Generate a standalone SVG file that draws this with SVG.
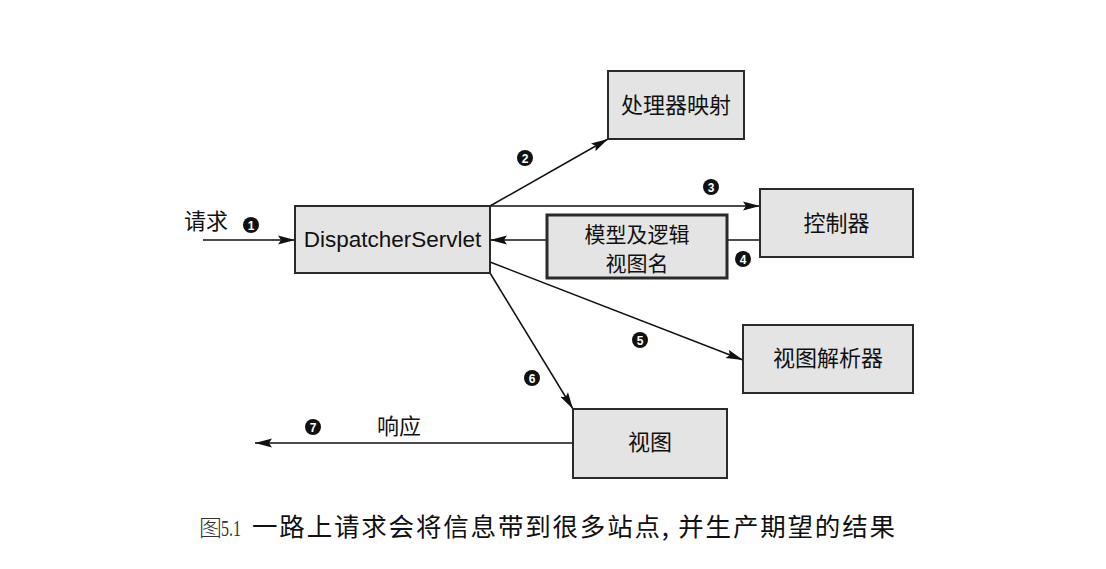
<svg xmlns="http://www.w3.org/2000/svg" width="1106" height="569" viewBox="0 0 1106 569">
<style>
.box{fill:#e4e4e4;stroke:#2a2a2a;stroke-width:2}
.thick{stroke-width:3}
.lbl{font-family:"Noto Sans CJK SC","Liberation Sans",sans-serif;font-size:22px;fill:#111;text-anchor:middle}
.sm{font-size:21px}
.en{font-family:"Liberation Sans",Arial,sans-serif;font-size:22.5px;fill:#111;text-anchor:middle}
.edge{stroke:#111;stroke-width:1.5;fill:none}
.num circle{fill:#111}
.num text{font-family:"Liberation Sans",Arial,sans-serif;font-size:12px;font-weight:bold;fill:#fff;text-anchor:middle}
.cap{font-family:"Noto Sans CJK SC",serif;font-size:23px;fill:#333;font-weight:300}
.capn{font-family:"Liberation Serif",serif;font-size:24px;fill:#333}
.capz{font-family:"Noto Sans CJK SC",sans-serif;font-size:25.5px;fill:#111}
</style>
<defs>
<marker id="ah" markerWidth="18" markerHeight="10" refX="17" refY="5" orient="auto" markerUnits="userSpaceOnUse">
<path d="M0,0.5 L17,5 L0,9.5 L3,5 Z" fill="#111"/>
</marker>
</defs>
<rect width="1106" height="569" fill="#fff"/>
<g id="connectors">
<line class="edge" x1="203" y1="240" x2="295" y2="240" marker-end="url(#ah)"/>
<line class="edge" x1="490" y1="206" x2="608" y2="139" marker-end="url(#ah)"/>
<line class="edge" x1="490" y1="206" x2="760" y2="206" marker-end="url(#ah)"/>
<line class="edge" x1="760" y1="240" x2="727" y2="240"/>
<line class="edge" x1="547" y1="240" x2="490" y2="240" marker-end="url(#ah)"/>
<line class="edge" x1="490" y1="262" x2="743" y2="360" marker-end="url(#ah)"/>
<line class="edge" x1="490" y1="273" x2="573" y2="409" marker-end="url(#ah)"/>
<line class="edge" x1="573" y1="443" x2="255" y2="443" marker-end="url(#ah)"/>
<text class="lbl" x="206" y="229">请求</text>
<text class="lbl" x="399" y="434">响应</text>
<g class="num"><circle cx="251" cy="225" r="8"/><text x="251" y="229.5">1</text></g>
<g class="num"><circle cx="525" cy="158" r="8"/><text x="525" y="162.5">2</text></g>
<g class="num"><circle cx="711" cy="187" r="8"/><text x="711" y="191.5">3</text></g>
<g class="num"><circle cx="743" cy="259" r="8"/><text x="743" y="263.5">4</text></g>
<g class="num"><circle cx="640" cy="340" r="8"/><text x="640" y="344.5">5</text></g>
<g class="num"><circle cx="532" cy="378" r="8"/><text x="532" y="382.5">6</text></g>
<g class="num"><circle cx="313" cy="427" r="8"/><text x="313" y="431.5">7</text></g>
</g>
<g id="dispatcher"><rect class="box" x="295" y="206" width="195" height="67"/><text class="en" x="392.5" y="247">DispatcherServlet</text></g>
<g id="handler-mapping"><rect class="box" x="608" y="71" width="136" height="68"/><text class="lbl" x="676" y="113">处理器映射</text></g>
<g id="controller"><rect class="box" x="760" y="189" width="153" height="68"/><text class="lbl" x="836.5" y="231">控制器</text></g>
<g id="model-view"><rect class="box thick" x="547" y="215" width="180" height="63"/><text class="lbl sm" x="637" y="242">模型及逻辑</text><text class="lbl sm" x="637" y="271">视图名</text></g>
<g id="view-resolver"><rect class="box" x="743" y="325" width="170" height="68"/><text class="lbl" x="828" y="366">视图解析器</text></g>
<g id="view"><rect class="box" x="573" y="409" width="154" height="69"/><text class="lbl" x="650" y="450">视图</text></g>
<text class="cap" x="199" y="536">图</text>
<text class="capn" x="221" y="536" textLength="20" lengthAdjust="spacingAndGlyphs">5.1</text>
<text class="capz" x="252" y="536" textLength="643" lengthAdjust="spacing">一路上请求会将信息带到很多站点, 并生产期望的结果</text>
</svg>
